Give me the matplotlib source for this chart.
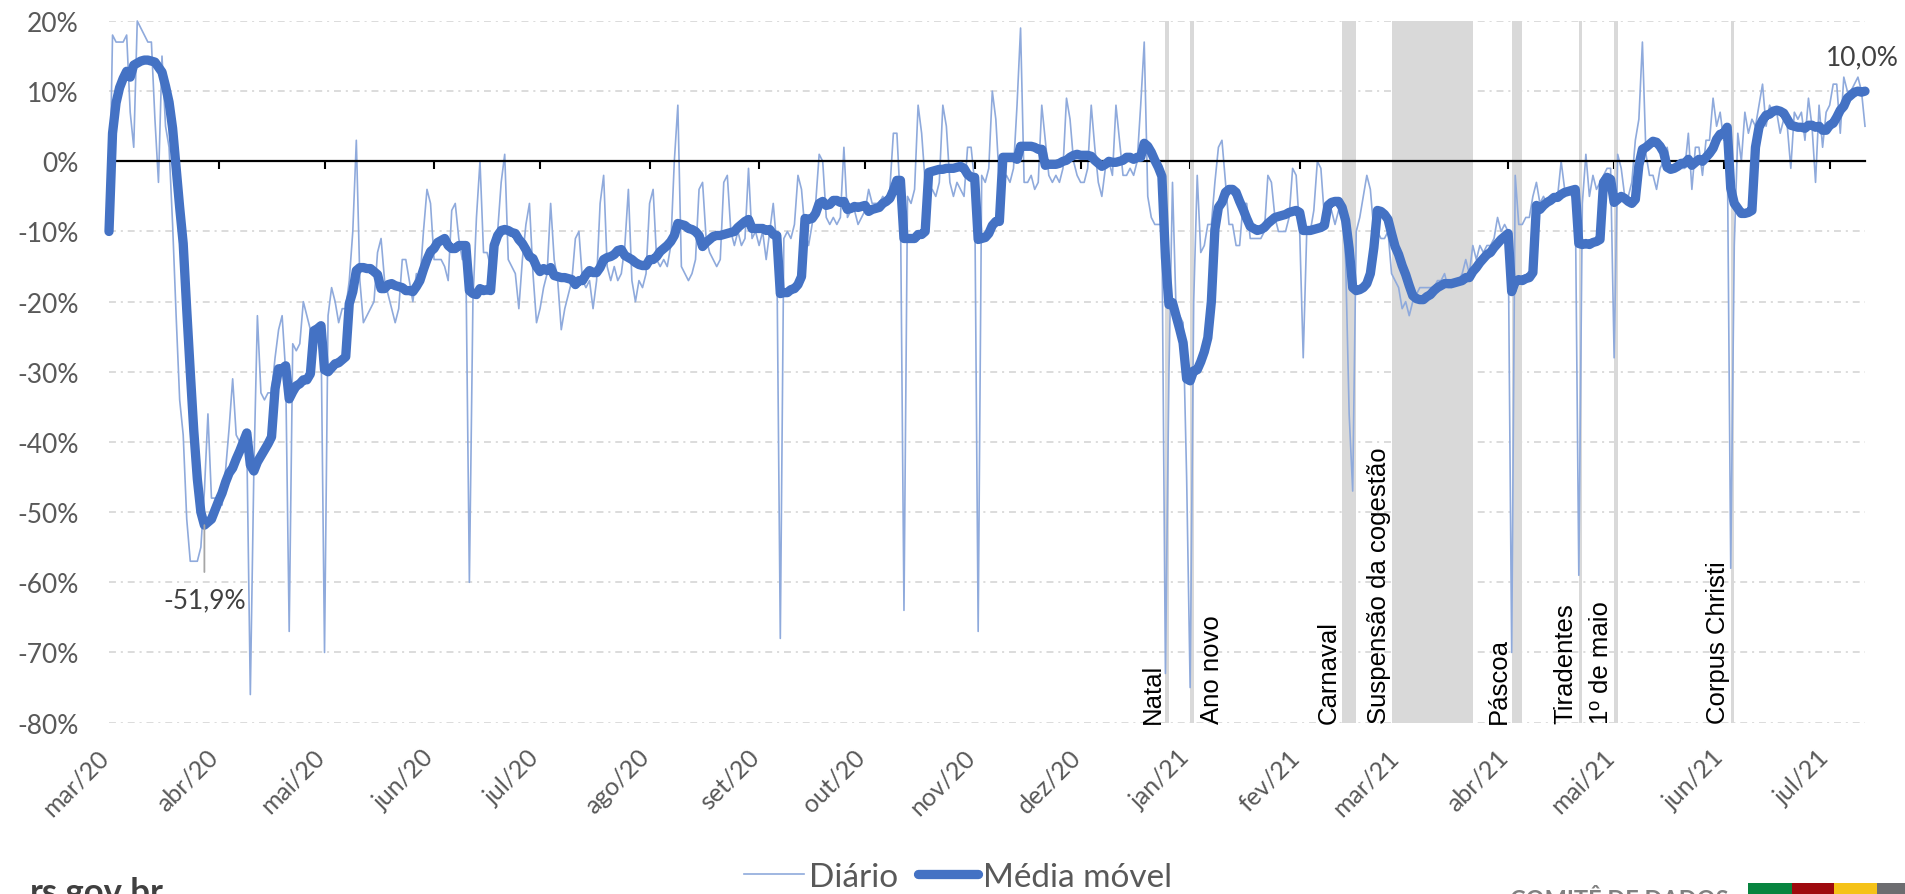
import numpy as np
import pandas as pd
import matplotlib
matplotlib.use('Agg')
import matplotlib.pyplot as plt
import matplotlib.transforms as mtransforms
from matplotlib.patches import Rectangle

# variacao diaria (%) desde 01/03/2020, uma linha por semana (dom -> sab)
diario = [
    -10, 18, 17, 17, 17, 18, 7,
    2, 20, 19, 18, 17, 17, 6,
    -3, 15, 5, 2, -9, -22, -34,
    -39, -51, -57, -57, -57, -55, -47,
    -36, -48, -48, -48, -49, -44, -38,
    -31, -39, -40, -39, -40, -76, -44,
    -22, -33, -34, -33, -33, -28, -24,
    -22, -30, -67, -26, -27, -26, -20,
    -22, -24, -24, -24, -24, -70, -22,
    -18, -20, -23, -21, -21, -17, -10,
    3, -17, -23, -22, -21, -20, -13,
    -11, -17, -19, -21, -23, -21, -14,
    -14, -17, -20, -16, -17, -10, -4,
    -6, -14, -14, -14, -15, -17, -7,
    -6, -11, -14, -14, -60, -20, -8,
    0, -13, -13, -15, -15, -10, -3,
    1, -14, -15, -16, -21, -14, -9,
    -6, -16, -23, -21, -18, -16, -6,
    -14, -17, -24, -21, -19, -17, -11,
    -10, -17, -18, -17, -21, -17, -6,
    -2, -15, -17, -15, -17, -16, -12,
    -4, -17, -20, -17, -18, -16, -6,
    -4, -14, -15, -14, -15, -12, 0,
    8, -15, -16, -17, -16, -14, -4,
    -3, -11, -13, -14, -15, -14, -3,
    -2, -10, -12, -10, -12, -11, -1,
    -11, -10, -12, -10, -14, -10, -6,
    -12, -68, -11, -10, -11, -9, -2,
    -4, -10, -12, -9, -6, 1, 0,
    -8, -9, -8, -9, -8, 2, -8,
    -7, -7, -9, -8, -7, -4, -6,
    -6, -6, -5, -6, -4, 4, 4,
    -6, -64, -5, -6, -4, 8, 4,
    -3, -5, -4, -5, -3, 8, 5,
    -3, -5, -3, -4, -5, 2, 2,
    -3, -67, -2, -3, -1, 10, 6,
    -3, -3, -2, -3, -1, 8, 19,
    -3, -3, -2, -4, -3, 8, 3,
    -2, -3, -2, -3, -1, 9, 6,
    0, -2, -3, -3, -1, 8, 2,
    -3, -5, -1, 0, -2, 8, 3,
    -2, -2, -1, -2, 0, 8, 17,
    -5, -8, -9, -9, -9, -73, -30,
    -3, -21, -22, -23, -45, -75, -20,
    -2, -13, -12, -9, -9, -3, 2,
    3, -3, -9, -9, -12, -12, -6,
    -6, -11, -11, -11, -11, -10, -2,
    -3, -8, -10, -10, -10, -8, -1,
    -2, -10, -28, -10, -10, -7, 0,
    -1, -8, -8, -7, -9, -7, -6,
    -14, -36, -47, -10, -8, -5, -2,
    -4, -10, -10, -11, -11, -10, -16,
    -17, -18, -21, -20, -22, -20, -19,
    -18, -18, -18, -18, -18, -17, -17,
    -16, -18, -18, -17, -17, -16, -14,
    -16, -12, -14, -12, -13, -12, -12,
    -11, -8, -10, -9, -10, -70, -2,
    -9, -9, -8, -8, -5, -3, -6,
    -5, -6, -6, -5, -5, 0, -4,
    -4, -5, -5, -59, -6, 1, -5,
    -2, -4, -3, -2, -1, -1, -28,
    1, -1, -5, -5, -3, 3, 6,
    17, 1, -2, -2, -4, -1, 0,
    2, -1, -1, 0, -1, -1, 4,
    -4, 2, 2, -2, 3, 3, 9,
    5, 7, 3, 4, -58, -12, 4,
    0, 7, 4, 6, 5, 8, 11,
    5, 8, 7, 7, 4, 6, 5,
    -1, 7, 6, 7, 3, 9, 5,
    -3, 8, 2, 7, 8, 11, 11,
    4, 12, 10, 10, 11, 12, 10,
    5,
]
inicio = '2020-03-01'
janela = 7

# eventos marcados no grafico
evento_nomes = ['Natal', 'Ano novo', 'Carnaval', 'Suspensão da cogestão',
                'Páscoa', 'Tiradentes', '1º de maio', 'Corpus Christi']
evento_inicio = ['2020-12-25', '2021-01-01', '2021-02-13', '2021-02-27',
                 '2021-04-02', '2021-04-21', '2021-05-01', '2021-06-03']
evento_fim = ['2020-12-26', '2021-01-02', '2021-02-17', '2021-03-22',
              '2021-04-05', '2021-04-22', '2021-05-02', '2021-06-04']

meses_pt = ['jan', 'fev', 'mar', 'abr', 'mai', 'jun',
            'jul', 'ago', 'set', 'out', 'nov', 'dez']

datas = pd.date_range(inicio, periods=len(diario), freq='D')
serie = pd.Series(diario, index=datas, dtype=float)
media = serie.rolling(janela, min_periods=1).mean()

plt.rcParams['font.family'] = ['Lato', 'DejaVu Sans']
plt.rcParams['lines.scale_dashes'] = False

W, H = 1905, 895
fig = plt.figure(figsize=(W / 100, H / 100), dpi=100)
x0, x1, ytop, ybot = 109, 1865, 22, 723.6
ax = fig.add_axes([x0 / W, 1 - ybot / H, (x1 - x0) / W, (ybot - ytop) / H])

cinza_txt = '#595959'

# faixas dos eventos
for nome, ini, fim in zip(evento_nomes, evento_inicio, evento_fim):
    ini, fim = pd.Timestamp(ini), pd.Timestamp(fim)
    ax.axvspan(ini, fim, color='#D9D9D9', lw=0, zorder=1)
    if nome == 'Ano novo':
        off = mtransforms.ScaledTranslation(6 / 100, 0, fig.dpi_scale_trans)
        ax.text(fim, -80, nome, rotation=90, ha='left', va='bottom',
                fontsize=18.5, family='Liberation Sans', color='black',
                transform=ax.transData + off, zorder=5)
    else:
        off = mtransforms.ScaledTranslation(-1 / 100, 0, fig.dpi_scale_trans)
        ax.text(ini, -80, nome, rotation=90, ha='right', va='bottom',
                fontsize=18.5, family='Liberation Sans', color='black',
                transform=ax.transData + off, zorder=5)

l1, = ax.plot(datas, serie.values, color='#8FAADC', lw=1.2, zorder=2,
              clip_on=False, label='Diário')
l2, = ax.plot(datas, media.values, color='#4472C4', lw=6.7, zorder=4,
              solid_joinstyle='round', solid_capstyle='round',
              clip_on=False, label='Média móvel')

ax.set_xlim(datas[0], datas[-1])
ax.set_ylim(-80, 20)

# grade horizontal
ax.set_yticks(np.arange(-80, 21, 10))
ax.set_yticklabels([f'{v}%' for v in range(-80, 21, 10)])
ax.yaxis.grid(True, color='#D9D9D9', lw=1.3, linestyle=(0, (5, 3.5, 1.5, 3.5)), zorder=0)
ax.set_axisbelow(True)
ax.tick_params(axis='y', length=0, pad=22, labelsize=19, labelcolor=cinza_txt)

for s in ['top', 'right', 'left']:
    ax.spines[s].set_visible(False)
ax.spines['bottom'].set_position(('data', 0))
ax.spines['bottom'].set_color('black')
ax.spines['bottom'].set_linewidth(1.6)
ax.spines['bottom'].set_zorder(3)

inicios_mes = pd.date_range(datas[0], datas[-1], freq='MS')
rotulos_mes = [f'{meses_pt[d.month - 1]}/{d:%y}' for d in inicios_mes]
ax.set_xticks(inicios_mes)
ax.tick_params(axis='x', direction='out', length=6, width=1.5, color='black',
               labelbottom=False)

sec = ax.secondary_xaxis('bottom')
sec.set_xticks(inicios_mes)
sec.set_xticklabels(rotulos_mes, rotation=45, ha='right')
sec.tick_params(length=0, pad=16, labelsize=18, labelcolor=cinza_txt)
sec.spines['bottom'].set_visible(False)
desl = mtransforms.ScaledTranslation(4 / 100, 0, fig.dpi_scale_trans)
for lab in sec.get_xticklabels():
    lab.set_transform(lab.get_transform() + desl)

# rotulos de minimo e ultimo valor
i_min = media.idxmin()
v_min = media.min()
ax.annotate(f'{v_min:.1f}%'.replace('.', ','), xy=(i_min, v_min),
            xytext=(i_min, -62.5), ha='center', va='center', fontsize=19,
            color='#404040',
            arrowprops=dict(arrowstyle='-', color='#A6A6A6', lw=1.3,
                            shrinkA=9, shrinkB=0), zorder=6)
ax.annotate(f'{media.iloc[-1]:.1f}%'.replace('.', ','),
            xy=(datas[-1], media.iloc[-1]), xytext=(-2, 25),
            textcoords='offset points', ha='center', va='center',
            fontsize=19, color='#404040', zorder=6)

fig.legend([l1, l2], ['Diário', 'Média móvel'], loc='center',
           bbox_to_anchor=(958 / W, 1 - 878 / H), ncol=2, frameon=False,
           fontsize=24, handlelength=1.8, handletextpad=0.15,
           columnspacing=0.6, labelcolor=cinza_txt)

# rodape (cortado na borda, como no original)
fig.text(30 / W, 1 - 903 / H, 'rs.gov.br', fontsize=25, weight='bold',
         color='#404040', va='baseline')
fig.text(1510 / W, 1 - 908 / H, 'COMITÊ DE DADOS', fontsize=17,
         weight='bold', color='#808080', va='baseline')
cores_logo = ['#07843F', '#9E0A0E', '#F5C218', '#6D6D70']
larguras_logo = [44, 42, 43, 28]
xb = 1748
for c, lw_ in zip(cores_logo, larguras_logo):
    fig.add_artist(Rectangle((xb / W, 0), lw_ / W, 11 / H,
                             transform=fig.transFigure, color=c, lw=0))
    xb += lw_

fig.savefig('out.png', dpi=100, facecolor='white')
